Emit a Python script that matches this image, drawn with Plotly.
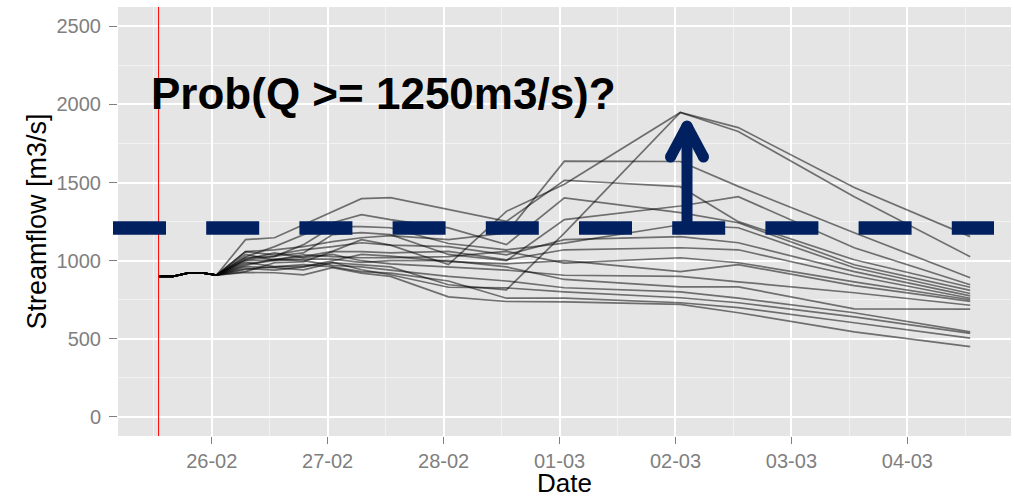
import plotly.graph_objects as go

# ---------------- data ----------------
times = ["2013-02-25 13:00", "2013-02-25 16:00", "2013-02-25 19:00", "2013-02-25 22:00",
         "2013-02-26 01:00", "2013-02-26 07:00", "2013-02-26 13:00", "2013-02-26 19:00",
         "2013-02-27 01:00", "2013-02-27 07:00", "2013-02-27 13:00", "2013-02-28 01:00",
         "2013-02-28 13:00", "2013-03-01 01:00", "2013-03-02 01:00", "2013-03-02 13:00",
         "2013-03-03 13:00", "2013-03-04 13:00"]

forecast_start = "2013-02-25 13:00"
threshold = 1210          # drawn position of the dashed threshold bar
question = "Prob(Q >= 1250m3/s)?"

m01 = [900, 900, 920, 922, 908, 1000, 1005, 1026, 1060, 1135, 1100, 975, 1316, 1490, 1949, 1852, 1468, 1154]
m02 = [900, 900, 920, 922, 908, 962, 955, 942, 987, 974, 960, 846, 814, 1177, 1949, 1827, 1410, 1026]
m03 = [900, 900, 920, 922, 908, 1058, 1070, 1090, 1122, 1147, 1160, 1135, 1177, 1637, 1635, 1476, 1179, 891]
m04 = [900, 900, 920, 922, 908, 1135, 1147, 1230, 1314, 1397, 1404, 1327, 1252, 1515, 1474, 1250, 1006, 830]
m05 = [900, 900, 920, 922, 908, 1025, 1090, 1167, 1243, 1295, 1263, 1210, 1103, 1402, 1308, 1243, 974, 810]
m06 = [900, 900, 920, 922, 908, 1006, 1026, 1103, 1218, 1218, 1211, 1110, 1070, 1113, 1230, 1211, 955, 790]
m07 = [900, 900, 920, 922, 908, 1058, 1038, 1070, 1090, 1115, 1100, 1090, 1038, 1135, 1154, 1115, 930, 775]
m08 = [900, 900, 920, 922, 908, 930, 987, 994, 1058, 1058, 1050, 1060, 1006, 1070, 1083, 1070, 904, 760]
m09 = [900, 900, 920, 922, 908, 1040, 1006, 1038, 1026, 1019, 1020, 1026, 1060, 985, 1019, 987, 865, 750]
m10 = [900, 900, 920, 922, 908, 990, 962, 962, 1000, 1040, 1030, 994, 980, 1000, 930, 975, 840, 740]
m11 = [900, 900, 920, 922, 908, 1010, 1050, 1020, 1040, 1000, 980, 960, 940, 907, 900, 865, 795, 715]
m12 = [900, 900, 920, 922, 908, 980, 1000, 1010, 1010, 990, 1000, 1000, 960, 880, 833, 833, 692, 690]
m13 = [900, 900, 920, 922, 908, 970, 1010, 1000, 970, 960, 940, 900, 870, 827, 801, 760, 667, 545]
m14 = [900, 900, 920, 922, 908, 950, 940, 960, 990, 942, 910, 830, 826, 800, 763, 731, 640, 535]
m15 = [900, 900, 920, 922, 908, 1020, 1030, 1050, 1167, 1180, 1167, 1040, 1000, 1263, 1350, 1410, 1083, 846]
m16 = [900, 900, 920, 922, 908, 945, 960, 975, 960, 930, 920, 870, 760, 760, 731, 700, 603, 505]
m17 = [900, 900, 920, 922, 908, 925, 923, 910, 955, 920, 900, 769, 739, 737, 720, 667, 545, 450]

members = [m01, m02, m03, m04, m05, m06, m07, m08, m09, m10, m11, m12, m13, m14, m15, m16, m17]

y_ticks = [0, 500, 1000, 1500, 2000, 2500]
x_ticks = ["2013-02-26", "2013-02-27", "2013-02-28", "2013-03-01",
           "2013-03-02", "2013-03-03", "2013-03-04"]
x_ticklabels = ["26-02", "27-02", "28-02", "01-03", "02-03", "03-03", "04-03"]

# ---------------- figure ----------------
fig = go.Figure()
for m in members:
    fig.add_trace(go.Scatter(x=times, y=m, mode="lines",
                             line=dict(color="rgba(0,0,0,0.52)", width=1.7),
                             hoverinfo="skip", showlegend=False))

W, H = 1015, 498
ML, MR, MT, MB = 118, 4, 7, 62
PW, PH = W - ML - MR, H - MT - MB


def px(x):
    return (x - ML) / PW


def py(y):
    return (H - MB - y) / PH


navy = "#002060"
shapes = [
    dict(type="line", xref="x", yref="paper", x0=forecast_start, x1=forecast_start,
         y0=0, y1=1, line=dict(color="red", width=1), layer="above"),
    # dashed threshold bar
    dict(type="line", xref="paper", yref="y", x0=px(113), x1=px(994),
         y0=threshold, y1=threshold, line=dict(color=navy, width=13.5, dash="53px,40.2px")),
    # arrow shaft
    dict(type="line", xref="paper", yref="paper", x0=px(687), x1=px(687),
         y0=py(229), y1=py(126), line=dict(color=navy, width=11)),
    # arrow head wings
    dict(type="line", xref="paper", yref="paper", x0=px(670.5), x1=px(687),
         y0=py(157), y1=py(126), line=dict(color=navy, width=11)),
    dict(type="line", xref="paper", yref="paper", x0=px(703.5), x1=px(687),
         y0=py(157), y1=py(126), line=dict(color=navy, width=11)),
]
for cx, cy in [(670.5, 157), (703.5, 157), (687, 126)]:
    shapes.append(dict(type="circle", xref="paper", yref="paper",
                       x0=px(cx - 5.5), x1=px(cx + 5.5), y0=py(cy + 5.5), y1=py(cy - 5.5),
                       fillcolor=navy, line=dict(width=0)))

fig.update_layout(
    width=W, height=H,
    margin=dict(l=ML, r=MR, t=MT, b=MB),
    paper_bgcolor="white",
    plot_bgcolor="#E5E5E5",
    font=dict(family="Liberation Sans, Arial, sans-serif"),
    shapes=shapes,
    annotations=[dict(text="<b>" + question.replace(">", "&gt;") + "</b>",
                      xref="paper", yref="paper", x=px(149), y=py(93),
                      xanchor="left", yanchor="middle", showarrow=False,
                      font=dict(size=44, color="black",
                                family="Liberation Sans, Arial, sans-serif"))],
    xaxis=dict(
        type="date", automargin=False,
        range=["2013-02-25 04:36", "2013-03-04 21:27"],
        tickvals=x_ticks, ticktext=x_ticklabels,
        showgrid=True, gridcolor="white", gridwidth=1.6,
        minor=dict(dtick=43200000, tick0="2013-02-25", showgrid=True,
                   gridcolor="#F2F2F2", gridwidth=0.8),
        ticks="outside", ticklen=7, tickwidth=1.3, tickcolor="#7F7F7F",
        tickfont=dict(size=20, color="#7F7F7F"),
        title=dict(text="Date", font=dict(size=26, color="black"), standoff=4),
        zeroline=False, showline=False,
    ),
    yaxis=dict(
        range=[-122, 2624], automargin=False,
        tickvals=y_ticks,
        showgrid=True, gridcolor="white", gridwidth=1.6,
        minor=dict(dtick=250, tick0=250, showgrid=True,
                   gridcolor="#F2F2F2", gridwidth=0.8),
        ticks="outside", ticklen=8, tickwidth=1.3, tickcolor="#7F7F7F",
        tickfont=dict(size=20, color="#7F7F7F"), ticklabelstandoff=4,
        title=dict(text="Streamflow [m3/s]", font=dict(size=27, color="black"), standoff=2),
        zeroline=False, showline=False,
    ),
)

fig.write_html("out.html", config={"displayModeBar": False},
               post_script="document.body.style.margin='0px';")
